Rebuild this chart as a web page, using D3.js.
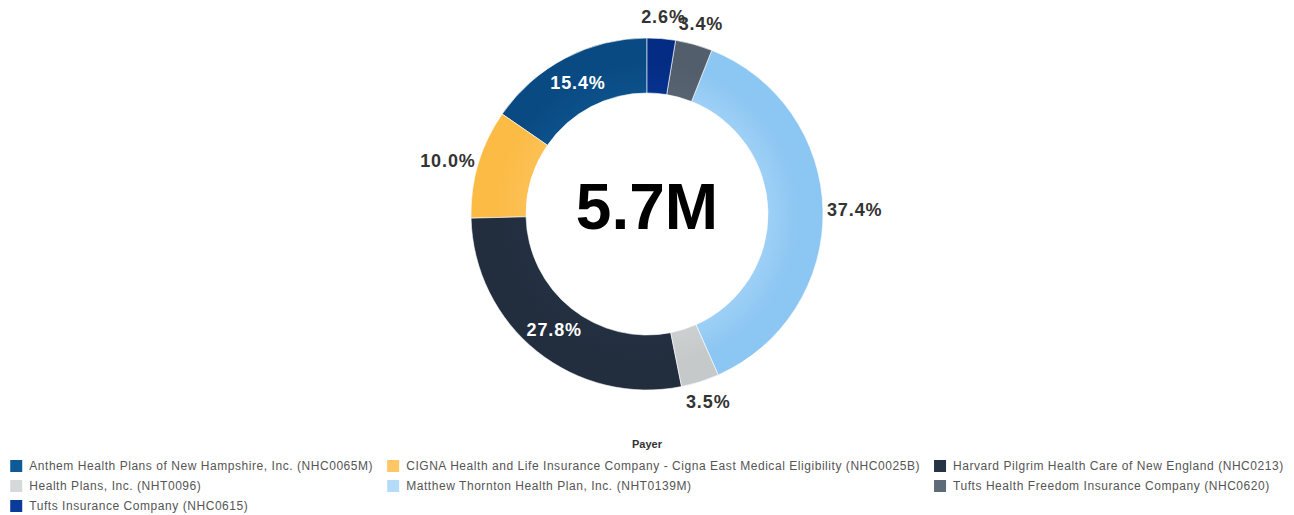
<!DOCTYPE html>
<html>
<head>
<meta charset="utf-8">
<script src="https://cdn.jsdelivr.net/npm/d3@7"></script>
<style>
  html, body { margin: 0; padding: 0; background: #fff; }
  svg { display: block; font-family: "Liberation Sans", Arial, Helvetica, sans-serif; }
</style>
</head>
<body>
<svg id="chart" width="1294" height="515"></svg>
<script>
// Payer mix of total value (shown in the donut centre)
const payers = [
  "Anthem Health Plans of New Hampshire, Inc. (NHC0065M)",
  "CIGNA Health and Life Insurance Company - Cigna East Medical Eligibility (NHC0025B)",
  "Harvard Pilgrim Health Care of New England (NHC0213)",
  "Health Plans, Inc. (NHT0096)",
  "Matthew Thornton Health Plan, Inc. (NHT0139M)",
  "Tufts Health Freedom Insurance Company (NHC0620)",
  "Tufts Insurance Company (NHC0615)"
];
const shares = [15.4, 10.0, 27.8, 3.5, 37.4, 3.4, 2.6];
const totalLabel = "5.7M";
const legendTitle = "Payer";

// Each payer colour: a lighter tone (legend swatch) and the main slice tone
const lightColors = ["#0e5a97", "#fdc766", "#253345", "#d6d9da", "#b4dcfa", "#5e6a78", "#0a3a9a"];
const deepColors  = ["#0a4a82", "#fcbb45", "#222e3e", "#c6c9ca", "#8cc6f2", "#525e6b", "#042c84"];

const W = 1294;
const cx = 647, cy = 214;
const outerR = 176, innerR = 121;

const svg = d3.select("#chart");
const defs = svg.append("defs");

const data = payers.map((name, i) => ({ name, share: shares[i], i }));

const color = d3.scaleOrdinal().domain(payers).range(deepColors);
const lightColor = d3.scaleOrdinal().domain(payers).range(lightColors);

// Slices run clockwise from 12 o'clock in reverse name order
const pie = d3.pie()
  .value(d => d.share)
  .sort((a, b) => d3.descending(a.name, b.name));
const arcs = pie(data);

const arc = d3.arc().innerRadius(innerR).outerRadius(outerR);

const g = svg.append("g").attr("transform", `translate(${cx},${cy})`);

// soft radial shading per slice: a touch lighter along the hole
data.forEach(d => {
  const grad = defs.append("radialGradient")
    .attr("id", "grad" + d.i)
    .attr("gradientUnits", "userSpaceOnUse")
    .attr("cx", 0).attr("cy", 0).attr("r", outerR);
  grad.append("stop").attr("offset", innerR / outerR)
    .attr("stop-color", d3.interpolateRgb(color(d.name), lightColor(d.name))(0.45));
  grad.append("stop").attr("offset", 0.86).attr("stop-color", color(d.name));
  grad.append("stop").attr("offset", 1).attr("stop-color", color(d.name));
});

g.selectAll("path.slice")
  .data(arcs)
  .join("path")
  .attr("class", "slice")
  .attr("d", arc)
  .attr("fill", d => `url(#grad${d.data.i})`)
  .attr("stroke", "#ffffff")
  .attr("stroke-width", 0.6);

// Percentage labels: white inside dark, wide slices; grey just outside otherwise
const fmt = v => d3.format(".1f")(v) + "%";
const isInside = d => d3.hsl(color(d.data.name)).l < 0.35 && d.data.share > 10;

const labels = g.selectAll("text.pct")
  .data(arcs)
  .join("text")
  .attr("class", "pct")
  .attr("text-anchor", "middle")
  .attr("dominant-baseline", "central")
  .style("font-size", "18px")
  .style("font-weight", "bold")
  .style("letter-spacing", "0.9px")
  .attr("fill", d => isInside(d) ? "#ffffff" : "#333333")
  .text(d => fmt(d.data.share));

labels.each(function(d) {
  const a = (d.startAngle + d.endAngle) / 2;
  const s = Math.sin(a), c = Math.cos(a);
  let x, y;
  if (isInside(d)) {
    [x, y] = arc.centroid(d);
  } else {
    const w = this.getComputedTextLength();
    const r = outerR + 4;
    x = s * r + s * w / 2;
    y = -c * r - c * Math.abs(c) * 18;
  }
  d3.select(this).attr("x", x).attr("y", y);
});

// total in the centre
g.append("text")
  .attr("text-anchor", "middle")
  .attr("x", 0)
  .attr("y", 15)
  .style("font-size", "64px")
  .style("font-weight", "bold")
  .attr("fill", "#000")
  .text(totalLabel);

// Legend: title, then three columns of swatch + name
svg.append("text")
  .attr("x", W / 2)
  .attr("y", 448)
  .attr("text-anchor", "middle")
  .style("font-size", "11px")
  .style("font-weight", "bold")
  .attr("fill", "#333")
  .text(legendTitle);

const cols = 3, rowH = 20, sw = 12, textGap = 7, colGap = 14;
const legend = svg.append("g");
const items = legend.selectAll("g.item")
  .data(data)
  .join("g")
  .attr("class", "item");

items.append("rect")
  .attr("width", sw).attr("height", sw)
  .attr("y", -sw / 2)
  .attr("fill", d => lightColor(d.name));

items.append("text")
  .attr("x", sw + textGap)
  .attr("dy", "0.35em")
  .style("font-size", "12px")
  .style("letter-spacing", "0.55px")
  .attr("fill", "#555")
  .text(d => d.name);

const widths = [];
items.each(function(d) {
  const tw = d3.select(this).select("text").node().getComputedTextLength();
  const col = d.i % cols;
  widths[col] = Math.max(widths[col] || 0, sw + textGap + tw);
});
const colX = [];
let acc = 0;
widths.forEach((w, k) => { colX[k] = acc; acc += w + colGap; });
const totalW = acc - colGap;
const x0 = (W - totalW) / 2;

items.attr("transform", d =>
  `translate(${x0 + colX[d.i % cols]},${466 + Math.floor(d.i / cols) * rowH})`);
</script>
</body>
</html>
